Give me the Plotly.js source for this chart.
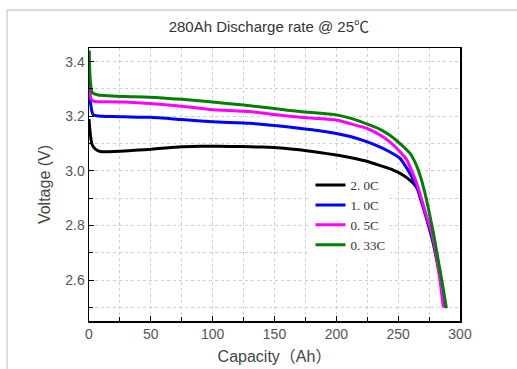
<!DOCTYPE html>
<html>
<head>
<meta charset="utf-8">
<script src="https://cdn.plot.ly/plotly-3.0.1.min.js"></script>
<style>html,body{margin:0;padding:0;background:#fff;}#chart{width:517px;height:369px;}</style>
</head>
<body>
<div id="chart"></div>
<script>
const seriesNames = ["2. 0C", "1. 0C", "0. 5C", "0. 33C"];
const seriesColors = ["#000000", "#0000ff", "#ff00ff", "#008000"];

const cap20 = [0, 0.5, 1.2, 2.2, 4, 6.2, 9, 13, 20, 29, 40, 50, 62, 76, 90, 105, 122, 140, 155, 170, 185, 200, 212, 224, 235, 246, 252, 256, 260, 263, 266, 268, 271, 274, 277, 280, 283, 286, 288];
const volt20 = [3.19, 3.16, 3.13, 3.10, 3.085, 3.076, 3.071, 3.07, 3.071, 3.073, 3.076, 3.079, 3.084, 3.088, 3.09, 3.09, 3.089, 3.087, 3.084, 3.077, 3.068, 3.058, 3.048, 3.036, 3.02, 3.003, 2.99, 2.978, 2.964, 2.951, 2.93, 2.90, 2.86, 2.81, 2.76, 2.70, 2.63, 2.56, 2.50];

const cap10 = [0, 0.3, 0.8, 1.5, 2.5, 3.5, 6, 10, 20, 29, 49, 75, 100, 130, 150, 170, 185, 200, 212, 224.5, 235, 243, 251.5, 257, 262, 266, 270, 274, 278, 282, 285, 288];
const volt10 = [3.44, 3.35, 3.28, 3.24, 3.215, 3.205, 3.202, 3.2, 3.199, 3.198, 3.196, 3.188, 3.18, 3.174, 3.166, 3.156, 3.148, 3.137, 3.125, 3.107, 3.088, 3.07, 3.046, 3.01, 2.97, 2.93, 2.87, 2.81, 2.75, 2.67, 2.59, 2.50];

const cap05 = [0, 0.5, 1.2, 2.2, 4, 7.5, 15, 29, 49, 75, 98, 130, 150, 171, 185, 200, 212, 224.5, 235, 243, 251.5, 257, 261, 265, 269, 273, 277, 280, 282.4, 284.5, 286.5];
const volt05 = [3.31, 3.29, 3.27, 3.26, 3.255, 3.253, 3.253, 3.252, 3.247, 3.237, 3.225, 3.217, 3.206, 3.196, 3.192, 3.186, 3.172, 3.156, 3.132, 3.107, 3.07, 3.04, 3.0, 2.954, 2.895, 2.832, 2.775, 2.71, 2.645, 2.575, 2.50];

const cap033 = [0, 0.3, 0.8, 1.5, 2.2, 4, 7.5, 15, 29, 49, 75, 98, 125, 150, 171, 200, 212, 224.5, 235, 243, 251.5, 259.6, 264, 267.6, 271, 275, 279, 282.5, 286, 289];
const volt033 = [3.44, 3.40, 3.35, 3.31, 3.29, 3.283, 3.278, 3.275, 3.272, 3.27, 3.262, 3.253, 3.241, 3.228, 3.217, 3.205, 3.192, 3.172, 3.153, 3.131, 3.10, 3.064, 3.028, 2.985, 2.93, 2.85, 2.76, 2.67, 2.58, 2.497];

const xTickVals = [0, 50, 100, 150, 200, 250, 300];
const yTickVals = [2.6, 2.8, 3.0, 3.2, 3.4];

const caps = [cap20, cap10, cap05, cap033];
const volts = [volt20, volt10, volt05, volt033];

const traces = caps.map((c, i) => ({
  x: c, y: volts[i], type: "scatter", mode: "lines", name: seriesNames[i],
  line: {color: seriesColors[i], width: 3, shape: "spline", smoothing: 0.5}
}));

const sansFont = "Liberation Sans, Arial, Noto Sans CJK SC, sans-serif";
const gridColor = "#cfcfcf";

const layout = {
  width: 517, height: 369,
  margin: {l: 89, r: 57, t: 48, b: 48},
  paper_bgcolor: "#ffffff", plot_bgcolor: "#ffffff",
  font: {family: sansFont, color: "#555555"},
  title: {text: "280Ah Discharge rate @ 25℃", font: {family: sansFont, size: 15, color: "#333333"},
          x: 0.52, xanchor: "center", xref: "container", y: 0.927, yanchor: "middle", yref: "container"},
  showlegend: true,
  legend: {x: 0.597, y: 0.553, xanchor: "left", yanchor: "top", bgcolor: "#ffffff",
           font: {family: "Liberation Serif, DejaVu Serif, serif", size: 13, color: "#333333"},
           tracegroupgap: 0, itemwidth: 30},
  xaxis: {range: [0, 300], tickvals: xTickVals, ticks: "inside", ticklen: 5, tickcolor: "#000",
          showline: true, linecolor: "#000", linewidth: 1.5, mirror: true, zeroline: false,
          showgrid: true, gridcolor: gridColor, griddash: "dot", gridwidth: 1,
          minor: {dtick: 25, tick0: 0, ticks: "inside", ticklen: 4, tickcolor: "#000", showgrid: true, gridcolor: gridColor, griddash: "dot"},
          tickfont: {size: 14, color: "#555555"},
          title: {text: "Capacity（Ah）", font: {size: 16, color: "#444444"}, standoff: 9}},
  yaxis: {range: [2.45, 3.45], tickvals: yTickVals, tickformat: ".1f", ticks: "inside", ticklen: 5, tickcolor: "#000",
          showline: true, linecolor: "#000", linewidth: 1.5, mirror: true, zeroline: false,
          showgrid: true, gridcolor: gridColor, griddash: "dot", gridwidth: 1,
          minor: {dtick: 0.1, tick0: 2.5, ticks: "inside", ticklen: 4, tickcolor: "#000", showgrid: true, gridcolor: gridColor, griddash: "dot"},
          tickfont: {size: 14, color: "#555555"},
          title: {text: "Voltage (V)", font: {size: 16, color: "#444444"}, standoff: 10}},
  shapes: [
    {type: "line", xref: "paper", yref: "paper", x0: -0.221, x1: -0.221, y0: 1.139, y1: -0.3, line: {color: "#d0d0d0", width: 1.5}},
    {type: "line", xref: "paper", yref: "paper", x0: -0.221, x1: 1.3, y0: 1.139, y1: 1.139, line: {color: "#d0d0d0", width: 1.5}}
  ]
};

Plotly.newPlot("chart", traces, layout, {displayModeBar: false, staticPlot: true});
</script>
</body>
</html>
